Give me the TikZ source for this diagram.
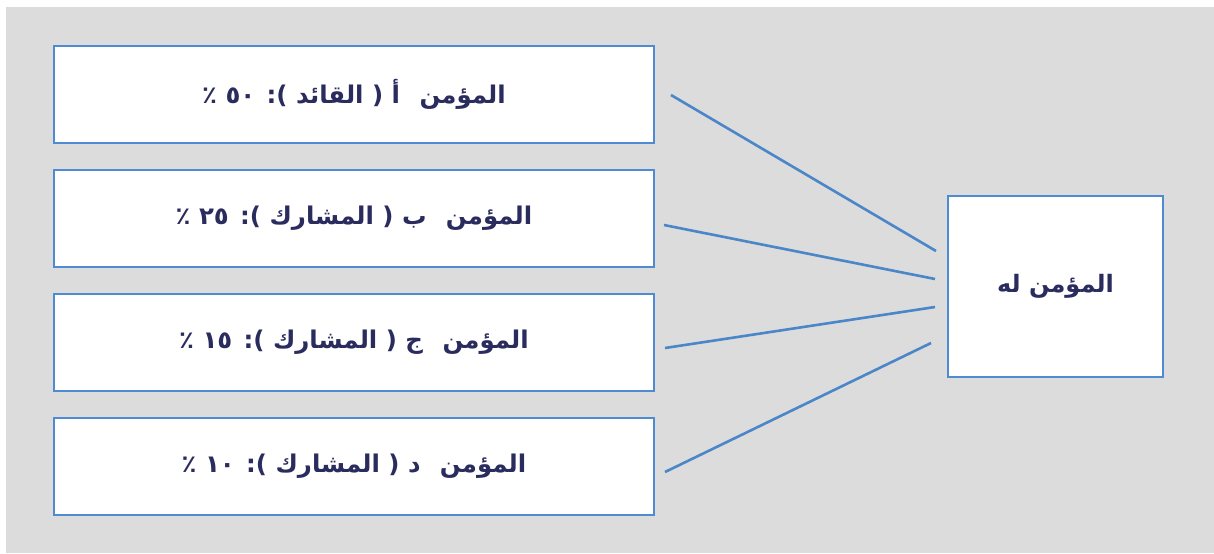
\documentclass[tikz,border=0pt]{standalone}
\usepackage{fontspec}
\newfontfamily\arabicfont[Script=Arabic]{DejaVu Sans}
\TeXXeTstate=1
\definecolor{bg}{HTML}{DCDCDC}
\definecolor{boxline}{HTML}{4F8BD2}
\definecolor{conn}{HTML}{4A86C8}
\definecolor{txt}{HTML}{2B2C5E}
\newcommand{\rtltext}[1]{\raisebox{-2.5pt}{\beginR #1\endR}}
\tikzset{
  party/.style={draw=boxline, line width=1.35pt, fill=white, minimum width=300pt, minimum height=48.5pt, inner sep=0pt, text=txt, font=\arabicfont\bfseries\fontsize{12.2}{14}\selectfont},
  insured/.style={draw=boxline, line width=1.35pt, fill=white, minimum width=107.5pt, minimum height=90.5pt, inner sep=0pt, text=txt, font=\arabicfont\bfseries\fontsize{12}{14}\selectfont},
  link/.style={draw=conn, line width=1.3pt}
}
\begin{document}
\begin{tikzpicture}[x=0.5pt,y=-0.5pt]
\useasboundingbox (0,0) rectangle (1214,553);
\fill[bg] (6,7) rectangle (1214,553);
\node[party] (a) at (354,94.5) {\rtltext{المؤمن\hspace{0.45em} أ ( القائد ): ٥٠ ٪}};
\node[party] (b) at (354,218.5) {\rtltext{المؤمن\hspace{0.45em} ب ( المشارك ): ٢٥ ٪}};
\node[party] (c) at (354,342.5) {\rtltext{المؤمن\hspace{0.45em} ج ( المشارك ): ١٥ ٪}};
\node[party] (d) at (354,466.5) {\rtltext{المؤمن\hspace{0.45em} د ( المشارك ): ١٠ ٪}};
\node[insured] (r) at (1055.5,286.5) {\rtltext{المؤمن له}};
\coordinate (a1) at (671,95);  \coordinate (r1) at (936,251);
\coordinate (b1) at (664,225); \coordinate (r2) at (935,279);
\coordinate (c1) at (665,348); \coordinate (r3) at (935,307);
\coordinate (d1) at (665,472); \coordinate (r4) at (931,343);
\draw[link] (a1) -- (r1);
\draw[link] (b1) -- (r2);
\draw[link] (c1) -- (r3);
\draw[link] (d1) -- (r4);
\end{tikzpicture}
\end{document}
